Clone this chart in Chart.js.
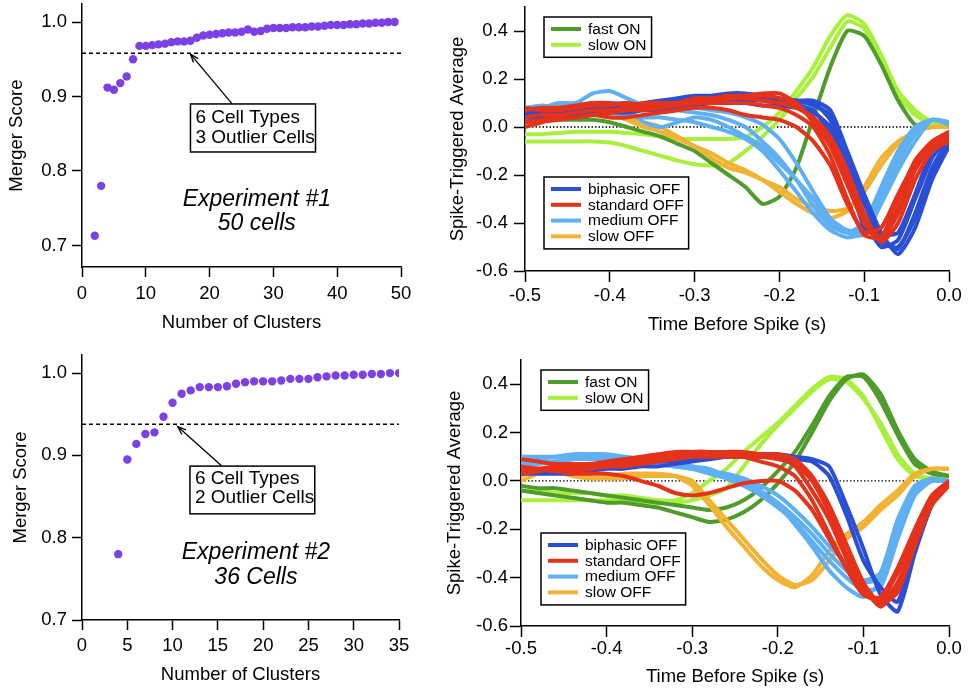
<!DOCTYPE html>
<html><head><meta charset="utf-8">
<script src="https://cdn.jsdelivr.net/npm/chart.js@4.4.1/dist/chart.umd.min.js"></script>
<style>
html,body{margin:0;padding:0;background:#fff;width:969px;height:689px;overflow:hidden;}
canvas{position:absolute;}
</style></head><body>
<canvas id="pa" width="440" height="345" style="left:0;top:0"></canvas>
<canvas id="pb" width="529" height="345" style="left:440px;top:0"></canvas>
<canvas id="pc" width="440" height="344" style="left:0;top:345px"></canvas>
<canvas id="pd" width="529" height="344" style="left:440px;top:345px"></canvas>
<script>
// ---------------- DATA ----------------
// Merger score, experiment 1
const clusters1 = [2,3,4,5,6,7,8,9,10,11,12,13,14,15,16,17,18,19,20,21,22,23,24,25,26,27,28,29,30,31,32,33,34,35,36,37,38,39,40,41,42,43,44,45,46,47,48,49];
const merger1 = [0.713,0.780,0.912,0.909,0.918,0.927,0.950,0.968,0.968,0.969,0.970,0.971,0.973,0.974,0.974,0.975,0.979,0.982,0.983,0.984,0.985,0.986,0.986,0.987,0.990,0.987,0.988,0.991,0.992,0.992,0.992,0.993,0.993,0.993,0.994,0.994,0.995,0.996,0.996,0.996,0.997,0.997,0.998,0.998,0.999,0.999,1.000,1.000];
const threshold1 = 0.958;
// Merger score, experiment 2
const clusters2 = [4,5,6,7,8,9,10,11,12,13,14,15,16,17,18,19,20,21,22,23,24,25,26,27,28,29,30,31,32,33,34,35];
const merger2 = [0.780,0.895,0.914,0.926,0.928,0.947,0.964,0.975,0.979,0.983,0.983,0.983,0.984,0.987,0.989,0.990,0.990,0.990,0.991,0.993,0.993,0.993,0.995,0.996,0.997,0.997,0.998,0.998,0.999,0.999,1.000,1.000];
const threshold2 = 0.938;

const mergerYTicks = [0.7,0.8,0.9,1.0];
const clusterTicks1 = [0,10,20,30,40,50];
const clusterTicks2 = [0,5,10,15,20,25,30,35];
const staXTicks = [-0.5,-0.4,-0.3,-0.2,-0.1,0.0];
const staYTicks = [-0.6,-0.4,-0.2,0.0,0.2,0.4];

const note1Lines = ['6 Cell Types','3 Outlier Cells'];
const exp1Lines = ['Experiment #1','50 cells'];
const note2Lines = ['6 Cell Types','2 Outlier Cells'];
const exp2Lines = ['Experiment #2','36 Cells'];

// Spike-triggered averages: time before spike (s)
const lagTimes = [-0.50,-0.48,-0.46,-0.44,-0.42,-0.40,-0.38,-0.36,-0.34,-0.32,-0.30,-0.28,-0.26,-0.24,-0.22,-0.20,-0.18,-0.16,-0.14,-0.12,-0.10,-0.08,-0.06,-0.04,-0.02,0.00];

// Experiment 1
const e1FastOn = [
 [0.03,0.03,0.03,0.03,0.03,0.02,0.00,-0.02,-0.04,-0.07,-0.10,-0.15,-0.20,-0.25,-0.32,-0.29,-0.17,0.04,0.25,0.40,0.38,0.26,0.11,0.01,0.00,0.00]
];
const e1SlowOn = [
 [-0.03,-0.03,-0.025,-0.02,-0.02,-0.02,-0.025,-0.03,-0.04,-0.05,-0.05,-0.05,-0.05,-0.04,0.00,0.06,0.15,0.25,0.38,0.465,0.43,0.30,0.15,0.07,0.02,0.01],
 [-0.06,-0.06,-0.06,-0.06,-0.06,-0.065,-0.08,-0.10,-0.12,-0.14,-0.155,-0.16,-0.15,-0.10,-0.04,0.03,0.12,0.21,0.33,0.44,0.41,0.28,0.13,0.05,0.01,0.00]
];
const e1Biphasic = [
 [0.05,0.05,0.06,0.06,0.07,0.07,0.08,0.08,0.09,0.10,0.11,0.12,0.13,0.13,0.12,0.11,0.10,0.10,0.03,-0.14,-0.32,-0.46,-0.51,-0.36,-0.17,-0.05],
 [0.02,0.03,0.04,0.05,0.05,0.06,0.06,0.07,0.07,0.08,0.09,0.10,0.11,0.11,0.11,0.10,0.09,0.07,-0.03,-0.20,-0.38,-0.50,-0.47,-0.30,-0.13,-0.04],
 [0.06,0.07,0.07,0.08,0.08,0.09,0.09,0.10,0.11,0.12,0.13,0.13,0.14,0.14,0.13,0.12,0.11,0.11,0.07,-0.10,-0.28,-0.44,-0.53,-0.42,-0.22,-0.08],
 [0.04,0.04,0.05,0.05,0.06,0.06,0.07,0.08,0.08,0.09,0.10,0.10,0.10,0.10,0.09,0.09,0.08,0.06,0.00,-0.18,-0.42,-0.45,-0.44,-0.28,-0.10,-0.03],
 [0.07,0.06,0.06,0.07,0.08,0.08,0.09,0.09,0.10,0.11,0.12,0.12,0.12,0.12,0.12,0.11,0.11,0.09,0.05,-0.12,-0.30,-0.48,-0.50,-0.38,-0.19,-0.06]
];
const e1Standard = [
 [0.00,0.02,0.03,0.04,0.05,0.06,0.07,0.07,0.08,0.09,0.10,0.11,0.12,0.13,0.14,0.14,0.10,0.02,-0.08,-0.24,-0.40,-0.47,-0.36,-0.18,-0.08,-0.04],
 [0.07,0.08,0.08,0.09,0.10,0.10,0.09,0.08,0.08,0.09,0.10,0.10,0.10,0.10,0.09,0.08,0.05,0.00,-0.12,-0.30,-0.45,-0.46,-0.30,-0.14,-0.06,-0.02],
 [0.02,0.03,0.04,0.04,0.05,0.04,0.04,0.05,0.06,0.07,0.08,0.08,0.07,0.05,0.04,0.03,0.00,-0.06,-0.16,-0.32,-0.44,-0.42,-0.28,-0.15,-0.08,-0.05],
 [0.04,0.05,0.05,0.06,0.07,0.07,0.08,0.10,0.10,0.10,0.11,0.12,0.12,0.12,0.11,0.10,0.08,0.04,-0.04,-0.18,-0.36,-0.48,-0.40,-0.22,-0.10,-0.06],
 [0.08,0.07,0.07,0.08,0.09,0.09,0.10,0.09,0.09,0.10,0.12,0.12,0.13,0.13,0.13,0.12,0.09,0.03,-0.06,-0.22,-0.38,-0.46,-0.34,-0.16,-0.07,-0.03]
];
const e1Medium = [
 [0.06,0.08,0.10,0.10,0.14,0.15,0.12,0.09,0.08,0.07,0.06,0.05,0.03,0.00,-0.06,-0.13,-0.22,-0.30,-0.40,-0.44,-0.45,-0.32,-0.18,-0.06,0.03,0.02],
 [0.03,0.05,0.06,0.07,0.07,0.06,0.05,0.04,0.04,0.03,0.02,0.00,-0.02,-0.05,-0.10,-0.18,-0.27,-0.36,-0.43,-0.46,-0.44,-0.30,-0.15,-0.03,0.03,0.01],
 [0.08,0.09,0.08,0.09,0.10,0.10,0.10,0.09,0.08,0.08,0.08,0.07,0.06,0.04,0.01,-0.05,-0.15,-0.27,-0.38,-0.43,-0.43,-0.28,-0.12,-0.02,0.03,0.02],
 [0.05,0.04,0.05,0.06,0.08,0.10,0.08,0.02,0.00,0.02,0.04,0.03,0.00,-0.04,-0.08,-0.15,-0.22,-0.33,-0.41,-0.44,-0.40,-0.25,-0.10,0.00,0.03,0.02]
];
const e1SlowOff = [
 [0.05,0.07,0.08,0.08,0.07,0.05,0.03,0.00,-0.02,-0.05,-0.08,-0.11,-0.15,-0.18,-0.22,-0.27,-0.32,-0.36,-0.38,-0.35,-0.25,-0.13,-0.06,-0.02,0.00,0.00],
 [0.07,0.08,0.09,0.09,0.08,0.06,0.04,0.02,0.00,-0.04,-0.08,-0.13,-0.17,-0.19,-0.22,-0.25,-0.30,-0.33,-0.35,-0.34,-0.27,-0.16,-0.07,-0.02,0.00,0.00]
];

// Experiment 2
const e2FastOn = [
 [-0.02,-0.03,-0.03,-0.04,-0.05,-0.06,-0.07,-0.08,-0.09,-0.10,-0.11,-0.12,-0.11,-0.08,-0.03,0.04,0.12,0.23,0.35,0.43,0.43,0.33,0.19,0.07,0.03,0.02],
 [-0.04,-0.05,-0.06,-0.07,-0.08,-0.09,-0.09,-0.10,-0.11,-0.13,-0.15,-0.17,-0.16,-0.13,-0.08,-0.01,0.08,0.20,0.33,0.42,0.44,0.36,0.21,0.09,0.04,0.02]
];
const e2SlowOn = [
 [-0.04,-0.04,-0.05,-0.05,-0.05,-0.06,-0.06,-0.07,-0.08,-0.08,-0.05,0.00,0.05,0.12,0.18,0.24,0.31,0.38,0.43,0.42,0.35,0.22,0.09,0.02,0.01,0.02],
 [-0.08,-0.08,-0.08,-0.08,-0.08,-0.08,-0.08,-0.09,-0.09,-0.09,-0.08,-0.06,-0.03,0.06,0.15,0.23,0.30,0.37,0.42,0.41,0.34,0.24,0.11,0.03,0.01,0.02]
];
const e2Biphasic = [
 [0.03,0.03,0.03,0.03,0.04,0.05,0.05,0.06,0.06,0.07,0.08,0.09,0.10,0.11,0.11,0.11,0.10,0.09,0.06,-0.10,-0.28,-0.47,-0.54,-0.30,-0.10,-0.01],
 [0.05,0.04,0.04,0.05,0.05,0.06,0.06,0.07,0.08,0.08,0.09,0.10,0.10,0.10,0.10,0.10,0.09,0.08,0.02,-0.14,-0.33,-0.44,-0.50,-0.27,-0.08,-0.01]
];
const e2Standard = [
 [0.09,0.08,0.07,0.07,0.07,0.08,0.09,0.10,0.11,0.12,0.12,0.12,0.12,0.12,0.11,0.10,0.06,-0.04,-0.16,-0.32,-0.46,-0.50,-0.42,-0.24,-0.08,-0.01],
 [0.05,0.05,0.04,0.04,0.05,0.06,0.07,0.08,0.09,0.10,0.11,0.11,0.11,0.11,0.11,0.11,0.09,0.02,-0.10,-0.26,-0.42,-0.51,-0.46,-0.27,-0.10,-0.02],
 [0.04,0.05,0.06,0.06,0.06,0.07,0.08,0.09,0.10,0.11,0.12,0.12,0.11,0.10,0.08,0.06,0.02,-0.08,-0.22,-0.36,-0.47,-0.48,-0.36,-0.20,-0.06,0.00],
 [0.06,0.05,0.04,0.03,0.03,0.03,0.02,0.00,-0.02,-0.05,-0.06,-0.05,-0.03,-0.01,0.00,0.00,-0.04,-0.12,-0.24,-0.36,-0.47,-0.49,-0.38,-0.22,-0.08,-0.01],
 [0.03,0.04,0.05,0.05,0.05,0.06,0.06,0.07,0.08,0.09,0.10,0.10,0.10,0.10,0.10,0.09,0.07,0.00,-0.13,-0.30,-0.44,-0.52,-0.44,-0.26,-0.09,-0.01]
];
const e2Medium = [
 [0.08,0.09,0.10,0.10,0.11,0.11,0.10,0.09,0.08,0.07,0.06,0.04,0.02,0.00,-0.04,-0.09,-0.15,-0.22,-0.30,-0.37,-0.42,-0.40,-0.20,-0.04,0.00,0.00],
 [0.06,0.07,0.08,0.09,0.09,0.09,0.08,0.08,0.07,0.06,0.05,0.03,0.01,-0.02,-0.06,-0.11,-0.17,-0.25,-0.33,-0.40,-0.45,-0.44,-0.24,-0.06,0.00,0.00],
 [0.10,0.10,0.10,0.11,0.11,0.10,0.09,0.08,0.07,0.06,0.05,0.04,0.03,0.01,-0.02,-0.06,-0.12,-0.19,-0.27,-0.34,-0.41,-0.38,-0.16,-0.02,0.01,0.00],
 [0.07,0.08,0.08,0.09,0.10,0.10,0.10,0.09,0.08,0.07,0.06,0.05,0.02,-0.01,-0.05,-0.10,-0.18,-0.27,-0.37,-0.44,-0.48,-0.42,-0.22,-0.05,0.00,0.00]
];
const e2SlowOff = [
 [0.02,0.05,0.04,0.02,0.01,0.01,0.01,0.02,0.02,0.02,0.00,-0.08,-0.16,-0.24,-0.32,-0.39,-0.43,-0.41,-0.33,-0.24,-0.19,-0.12,-0.06,0.02,0.05,0.05],
 [0.00,0.03,0.04,0.03,0.02,0.02,0.03,0.03,0.03,0.02,-0.02,-0.10,-0.19,-0.27,-0.35,-0.41,-0.44,-0.39,-0.29,-0.22,-0.17,-0.10,-0.04,0.03,0.05,0.05]
];

const onLabels = ['fast ON','slow ON'];
const offLabels = ['biphasic OFF','standard OFF','medium OFF','slow OFF'];

// ---------------- STYLE ----------------
const FONT = '"Liberation Sans", Arial, Helvetica, sans-serif';
const COL = {fastOn:'#4f9b2c', slowOn:'#a8f03c', biphasic:'#2a4fd6', standard:'#e5321b', medium:'#5eb0f2', slowOff:'#f2b234', dot:'#7b40e6'};
Chart.defaults.font.family = FONT;

const fmt1 = v => (Math.abs(v) < 1e-9 ? 0 : v).toFixed(1);
const fmt0 = v => String(Math.round(v));

function axis(o) {
  const horiz = o.pos === 'bottom';
  return {
    type: 'linear', position: o.pos, min: o.min, max: o.max,
    grid: {display: true, drawOnChartArea: false, drawTicks: true, tickLength: o.tickLen, tickWidth: 1.5, tickColor: '#000'},
    border: {display: true, color: '#000', width: 1.5},
    ticks: {color: '#000', font: {family: FONT, size: 18.5}, padding: o.labelPad, maxRotation: 0, minRotation: 0, autoSkip: false, callback: v => o.fmt(v)},
    title: {display: true, text: o.title, color: '#000', font: {family: FONT, size: 18.5},
            padding: horiz ? {top: 0, bottom: o.titlePad} : {top: o.titlePad, bottom: 0}},
    afterBuildTicks: s => { s.ticks = o.ticks.map(v => ({value: v})); },
    afterFit: s => {
      if (horiz) { s.height = o.size; s.paddingLeft = 0; s.paddingRight = 0; }
      else { s.width = o.size; s.paddingTop = 0; s.paddingBottom = 0; }
    }
  };
}

function notePlugin(n) {
  return {
    id: 'note',
    afterDatasetsDraw(chart) {
      const {ctx, scales: {x, y}} = chart;
      ctx.save();
      const tx = x.getPixelForValue(n.tip[0]), ty = y.getPixelForValue(n.tip[1]);
      const sx = x.getPixelForValue(n.tail[0]), sy = y.getPixelForValue(n.tail[1]);
      ctx.strokeStyle = '#000'; ctx.lineWidth = 1.3;
      ctx.beginPath(); ctx.moveTo(sx, sy); ctx.lineTo(tx, ty); ctx.stroke();
      const ang = Math.atan2(ty - sy, tx - sx), L = 9, w = 0.35;
      ctx.beginPath();
      ctx.moveTo(tx - L * Math.cos(ang - w), ty - L * Math.sin(ang - w));
      ctx.lineTo(tx, ty);
      ctx.lineTo(tx - L * Math.cos(ang + w), ty - L * Math.sin(ang + w));
      ctx.stroke();
      const bx0 = x.getPixelForValue(n.box[0]), bx1 = x.getPixelForValue(n.box[1]);
      const by0 = y.getPixelForValue(n.box[2]), by1 = y.getPixelForValue(n.box[3]);
      ctx.fillStyle = '#fff'; ctx.fillRect(bx0, by0, bx1 - bx0, by1 - by0);
      ctx.lineWidth = 1.5; ctx.strokeRect(bx0, by0, bx1 - bx0, by1 - by0);
      ctx.fillStyle = '#000'; ctx.font = '19px ' + FONT; ctx.textBaseline = 'middle'; ctx.textAlign = 'left';
      n.boxLines.forEach((t, i) => ctx.fillText(t, bx0 + 5, y.getPixelForValue(n.boxY[i])));
      ctx.font = 'italic 23px ' + FONT; ctx.textAlign = 'center';
      n.expLines.forEach((t, i) => ctx.fillText(t, x.getPixelForValue(n.expX), y.getPixelForValue(n.expY[i])));
      ctx.restore();
    }
  };
}

function mergerChart(id, xs, ys, thr, c, note) {
  new Chart(document.getElementById(id), {
    type: 'scatter',
    data: {datasets: [
      {type: 'scatter', data: xs.map((x, i) => ({x, y: ys[i]})), backgroundColor: COL.dot, borderWidth: 0, pointRadius: 4.2, order: 1},
      {type: 'line', data: [{x: c.xMin, y: thr}, {x: c.xMax, y: thr}], borderColor: '#000', borderWidth: 1.5, borderDash: [4, 3], pointRadius: 0, order: 2}
    ]},
    options: {
      responsive: false, animation: false, events: [],
      layout: {padding: {left: 0, top: c.top, right: c.right, bottom: 0}},
      plugins: {legend: {display: false}, tooltip: {enabled: false}},
      scales: {
        x: axis({pos: 'bottom', min: c.xMin, max: c.xMax, ticks: c.xTicks, fmt: fmt0, title: 'Number of Clusters', tickLen: 10, labelPad: c.xLabelPad, titlePad: c.xTitlePad, size: c.xSize}),
        y: axis({pos: 'left', min: c.yMin, max: c.yMax, ticks: mergerYTicks, fmt: fmt1, title: 'Merger Score', tickLen: 10, labelPad: 5, titlePad: c.yTitlePad, size: c.ySize})
      }
    },
    plugins: [notePlugin(note)]
  });
}

function legendPlugin(groups) {
  return {
    id: 'staLegend',
    afterDraw(chart) {
      const {ctx, chartArea: a} = chart;
      ctx.save();
      groups.forEach(g => {
        ctx.font = '15.5px ' + FONT;
        const tw = Math.max(...g.labels.map(l => ctx.measureText(l).width));
        const x0 = a.left + g.dx, y0 = a.top + g.dy;
        const w = 44 + tw + 5, h = 12 + (g.labels.length - 1) * 15.8 + 12.5;
        ctx.fillStyle = '#fff'; ctx.fillRect(x0, y0, w, h);
        ctx.strokeStyle = '#000'; ctx.lineWidth = 1.5; ctx.strokeRect(x0, y0, w, h);
        g.labels.forEach((l, i) => {
          const yy = y0 + 12 + i * 15.8;
          ctx.strokeStyle = g.colors[i]; ctx.lineWidth = 4;
          ctx.beginPath(); ctx.moveTo(x0 + 7, yy); ctx.lineTo(x0 + 37, yy); ctx.stroke();
          ctx.fillStyle = '#000'; ctx.textBaseline = 'middle'; ctx.textAlign = 'left';
          ctx.fillText(l, x0 + 44, yy + 0.5);
        });
      });
      ctx.restore();
    }
  };
}

function staChart(id, groups, c) {
  const ds = [{data: [{x: -0.5, y: 0}, {x: 0, y: 0}], borderColor: '#000', borderWidth: 1.4, borderDash: [1.5, 2], pointRadius: 0, order: 100}];
  groups.forEach(g => g.traces.forEach(tr => ds.push({
    data: tr.map((v, i) => ({x: lagTimes[i], y: v})), borderColor: g.color, borderWidth: 4,
    pointRadius: 0, tension: 0.2, fill: false, order: g.order, borderJoinStyle: 'round', borderCapStyle: 'round'
  })));
  new Chart(document.getElementById(id), {
    type: 'line',
    data: {datasets: ds},
    options: {
      responsive: false, animation: false, events: [],
      layout: {padding: {left: 0, top: c.top, right: c.right, bottom: 0}},
      plugins: {legend: {display: false}, tooltip: {enabled: false}},
      scales: {
        x: axis({pos: 'bottom', min: -0.5, max: 0, ticks: staXTicks, fmt: fmt1, title: 'Time Before Spike (s)', tickLen: 11, labelPad: c.xLabelPad, titlePad: c.xTitlePad, size: c.xSize}),
        y: axis({pos: 'left', min: -0.6, max: 0.5, ticks: staYTicks, fmt: fmt1, title: 'Spike-Triggered Average', tickLen: 11, labelPad: c.yLabelPad, titlePad: c.yTitlePad, size: c.ySize})
      }
    },
    plugins: [legendPlugin([
      {labels: onLabels, colors: [COL.fastOn, COL.slowOn], dx: c.onDx, dy: c.onDy},
      {labels: offLabels, colors: [COL.biphasic, COL.standard, COL.medium, COL.slowOff], dx: c.offDx, dy: c.offDy}
    ])]
  });
}

// ---------------- CHARTS ----------------
mergerChart('pa', clusters1, merger1, threshold1,
  {xMin: 0, xMax: 50, yMin: 0.671, yMax: 1.024, xTicks: clusterTicks1, top: 3, right: 39, xSize: 78, ySize: 82, xLabelPad: 6, xTitlePad: 11, yTitlePad: 6},
  {tip: [17.0, 0.957], tail: [23.5, 0.8905], box: [17.0, 36.6, 0.890, 0.8255], boxLines: note1Lines, boxY: [0.872, 0.845],
   expLines: exp1Lines, expX: 27.4, expY: [0.761, 0.729]});

mergerChart('pc', clusters2, merger2, threshold2,
  {xMin: 0, xMax: 35, yMin: 0.7, yMax: 1.022, xTicks: clusterTicks2, top: 10, right: 41, xSize: 69, ySize: 82, xLabelPad: 5, xTitlePad: 3, yTitlePad: 10},
  {tip: [10.56, 0.935], tail: [15.4, 0.8875], box: [11.92, 25.7, 0.887, 0.829], boxLines: note2Lines, boxY: [0.872, 0.848],
   expLines: exp2Lines, expX: 19.2, expY: [0.782, 0.752]});

staChart('pb', [
  {traces: e1SlowOn, color: COL.slowOn, order: 60},
  {traces: e1FastOn, color: COL.fastOn, order: 50},
  {traces: e1SlowOff, color: COL.slowOff, order: 40},
  {traces: e1Medium, color: COL.medium, order: 30},
  {traces: e1Biphasic, color: COL.biphasic, order: 20},
  {traces: e1Standard, color: COL.standard, order: 10}
], {top: 7, right: 20, xSize: 74, ySize: 85, xLabelPad: 3, xTitlePad: 9, yLabelPad: 6, yTitlePad: 7, onDx: 19, onDy: 10, offDx: 19, offDy: 170});

staChart('pd', [
  {traces: e2SlowOn, color: COL.slowOn, order: 60},
  {traces: e2FastOn, color: COL.fastOn, order: 50},
  {traces: e2SlowOff, color: COL.slowOff, order: 40},
  {traces: e2Medium, color: COL.medium, order: 30},
  {traces: e2Biphasic, color: COL.biphasic, order: 20},
  {traces: e2Standard, color: COL.standard, order: 10}
], {top: 15, right: 20, xSize: 63, ySize: 81, xLabelPad: 1, xTitlePad: 1, yLabelPad: 2, yTitlePad: 4, onDx: 20, onDy: 10, offDx: 20, offDy: 173});
</script>
</body></html>
